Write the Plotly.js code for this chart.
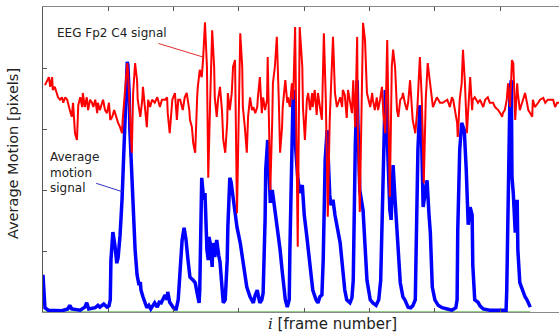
<!DOCTYPE html>
<html>
<head>
<meta charset="utf-8">
<script src="https://cdn.plot.ly/plotly-3.0.1.min.js"></script>
<style>html,body{margin:0;padding:0;background:#fff;}#chart{width:559px;height:333px;}</style>
</head>
<body>
<div id="chart"></div>
<script>
// Average motion signal (frame number, pixels)
const motionFrames = [0,2,3,8,18,29,38,41,44,57,64,67,70,80,84,87,93,98,101,103,104,106,107,110,113,115,118,121,124,127,129,130,132,133,135,136,139,141,144,147,149,150,153,156,159,162,165,168,171,175,178,181,184,187,190,191,194,198,201,204,207,210,213,216,219,222,225,230,233,236,239,240,242,243,246,248,251,253,254,256,259,260,263,266,269,271,274,276,279,282,283,286,288,291,294,297,302,306,309,312,317,322,325,328,331,332,335,337,340,341,344,346,348,351,355,360,363,366,371,374,377,378,380,383,384,387,390,393,397,400,404,409,413,418,421,424,427,429,432,435,436,439,441,444,447,450,455,459,462,465,470,473,475,478,481,482,485,490,493,496,501,505,510,514,517,521,524,525,528,531,533,536,539,542,547,551,554,559,563,566,570,571,574,577,579,582,585,588,591,593,596,600,605,611,619,626,632,634,635,638,641,645,648,649,651,654,657,658,661,666,669,674,684,700,709,710,712,715,717,718,720,723,726,727,730,735,738,741,746];
const motionValues = [0.61,0.36,0.07,0.03,0.03,0.02,0.05,0.11,0.05,0.03,0.08,0.15,0.05,0.07,0.11,0.08,0.13,0.08,0.10,0.20,0.85,1.26,1.31,1.10,0.80,0.89,1.26,1.84,2.66,3.64,4.10,4.05,3.56,2.98,2.49,2.00,1.51,1.02,0.61,0.44,0.49,0.36,0.25,0.15,0.07,0.11,0.05,0.10,0.15,0.08,0.16,0.15,0.23,0.28,0.20,0.33,0.16,0.08,0.05,0.05,0.20,0.69,1.18,1.38,1.18,0.85,0.57,0.52,0.48,0.31,0.15,0.36,1.34,2.20,1.84,1.95,1.02,0.85,1.23,1.13,0.74,1.13,0.90,1.18,0.93,0.82,0.41,0.15,0.20,0.85,1.39,2.20,2.13,1.84,1.59,1.39,1.13,0.85,0.61,0.41,0.25,0.15,0.28,0.36,0.20,0.15,0.20,0.31,1.51,2.33,2.82,2.41,1.79,2.00,1.67,1.30,1.02,0.69,0.20,0.08,0.20,1.02,2.16,3.64,3.56,2.66,2.21,1.95,2.08,1.59,1.23,0.77,0.36,0.20,0.15,0.25,0.28,0.85,2.49,2.98,2.66,1.92,1.75,1.84,1.59,1.43,1.13,0.69,0.36,0.20,0.15,0.23,0.52,2.66,3.80,3.15,2.00,1.67,1.02,0.52,0.20,0.15,0.11,0.20,0.52,2.66,3.64,3.48,2.49,1.67,1.51,2.41,1.84,1.26,0.48,0.25,0.20,0.08,0.07,0.10,0.20,0.85,2.66,3.39,3.15,1.72,1.92,2.16,1.59,1.30,0.41,0.20,0.11,0.07,0.05,0.03,0.07,0.20,1.34,2.66,3.10,2.98,2.33,2.00,1.43,1.72,1.59,0.77,0.20,0.16,0.10,0.05,0.03,0.03,0.03,0.36,1.84,3.64,3.80,2.21,1.95,1.30,1.84,1.02,0.48,0.31,0.25,0.20,0.08];

// EEG Fp2-C4 signal (frame number, scaled amplitude)
const eegFrames = [3,6,9,11,14,15,18,21,23,26,29,31,34,37,38,41,44,46,49,52,54,57,60,61,64,67,69,72,75,77,80,83,84,87,92,95,98,101,103,106,109,113,115,118,121,122,126,129,130,133,136,138,141,144,145,149,152,153,156,159,161,164,167,171,175,179,182,187,190,191,194,198,202,205,207,210,214,217,220,224,225,228,230,233,236,237,240,243,245,248,251,253,256,259,262,263,266,268,271,274,276,279,282,283,286,289,291,294,297,299,302,305,306,309,312,314,317,320,322,325,328,329,332,335,337,340,343,344,348,351,352,355,358,361,363,366,367,371,374,375,378,381,383,386,390,393,397,398,401,404,406,409,412,413,416,419,421,424,427,430,433,436,439,444,447,450,455,458,459,462,465,467,470,473,475,478,481,482,485,488,490,493,496,501,504,505,508,511,513,516,519,521,524,527,528,531,534,536,539,542,544,547,550,551,554,557,559,562,565,566,570,573,577,580,583,586,589,593,596,597,603,608,612,619,623,626,628,631,634,635,638,641,643,646,649,651,654,657,658,661,666,669,674,677,681,684,689,692,697,700,703,704,707,710,712,715,718,720,723,726,727,730,733,735,738,741,743,746,749,750,753,758,761,766,769,773,776,781,784,787,790];
const eegValues = [3.72,3.80,3.85,3.69,3.85,3.64,3.69,3.59,3.52,3.48,3.52,3.43,3.52,3.48,3.43,3.31,3.20,3.43,2.93,2.82,3.39,3.52,3.36,3.59,3.36,3.52,3.31,3.48,3.43,3.36,3.48,3.26,3.43,3.31,3.48,3.31,3.26,3.43,3.15,3.20,3.31,3.15,3.10,3.03,2.93,3.15,3.64,4.08,3.97,3.31,2.61,3.59,4.08,3.80,3.48,3.20,3.48,3.69,3.31,3.03,3.48,3.36,3.48,3.43,3.52,3.36,3.48,3.48,3.52,3.26,2.93,3.48,3.59,3.15,3.48,3.48,3.31,3.52,3.59,3.31,3.15,3.03,2.77,2.61,3.52,3.69,3.97,3.85,4.13,4.75,4.02,2.20,3.48,4.62,4.02,3.52,3.20,3.48,3.69,3.31,2.82,2.61,3.10,3.59,3.31,3.59,4.02,4.13,1.62,2.66,4.57,4.02,3.36,3.03,2.61,3.20,3.52,3.31,3.36,3.26,3.36,3.52,3.85,3.26,3.52,3.31,3.48,4.18,2.00,3.15,3.75,4.02,4.51,3.48,2.61,3.03,3.36,3.80,3.43,3.52,3.36,3.75,3.48,4.67,1.07,4.67,4.02,3.36,2.82,3.48,3.59,3.31,3.59,3.36,3.64,3.23,3.59,3.36,3.15,4.57,3.48,1.56,3.15,4.51,3.59,3.36,3.52,3.36,3.64,3.56,3.18,3.64,3.43,3.26,3.80,3.03,4.51,3.03,1.64,3.31,4.74,4.46,3.59,3.36,3.59,3.48,3.31,3.52,3.31,3.48,3.69,3.26,2.93,4.46,3.69,1.89,4.02,4.30,4.02,3.31,3.20,3.48,3.52,3.59,3.43,3.31,3.43,3.80,3.31,3.15,2.93,3.31,4.18,3.48,2.11,3.48,4.08,3.75,3.48,3.36,3.52,3.43,3.43,3.48,3.36,3.52,3.48,3.31,3.10,2.87,3.48,3.75,4.30,3.75,2.93,3.31,3.85,3.31,3.48,3.52,3.43,3.48,3.36,3.48,3.52,3.43,3.43,3.36,3.31,3.26,3.20,3.26,3.31,3.48,3.75,3.36,4.13,4.08,3.15,3.75,3.59,3.31,3.43,3.48,3.59,3.43,3.31,3.26,3.20,3.48,3.36,3.43,3.48,3.51,3.43,3.48,3.48,3.48,3.36,3.43,3.43];

// zero baseline
const baseFrames = [0, 746];
const baseValues = [0, 0];

const xTicks = [0,100,200,300,400,500,600,700];
const yTicks = [0,1,2,3,4,5];

const traces = [
  {x: baseFrames, y: baseValues, mode: 'lines', line: {color: '#6cbf5f', width: 1.5}, hoverinfo: 'skip'},
  {x: motionFrames, y: motionValues, mode: 'lines', line: {color: '#0000ff', width: 3.5}, hoverinfo: 'skip'},
  {x: eegFrames, y: eegValues, mode: 'lines', line: {color: '#ff0000', width: 2}, hoverinfo: 'skip'}
];

const txt = {family: 'DejaVu Sans', size: 12, color: '#222'};

const layout = {
  width: 559, height: 333,
  margin: {l: 43, r: 0, t: 7, b: 21, pad: 0},
  paper_bgcolor: '#fff', plot_bgcolor: '#fff',
  showlegend: false,
  xaxis: {range: [0, 790], tickvals: xTicks, ticks: 'inside', ticklen: 4, tickcolor: '#555',
          showticklabels: false, showgrid: false, zeroline: false,
          showline: true, linecolor: '#888', linewidth: 1, mirror: 'ticks'},
  yaxis: {range: [0, 5], tickvals: yTicks, ticks: 'inside', ticklen: 4, tickcolor: '#555',
          showticklabels: false, showgrid: false, zeroline: false,
          showline: true, linecolor: '#555', linewidth: 1},
  annotations: [
    {xref: 'paper', yref: 'paper', x: 0.0233, y: 0.915, xanchor: 'left', yanchor: 'middle',
     text: 'EEG Fp2 C4 signal', showarrow: false, font: txt},
    {xref: 'paper', yref: 'paper', x: 0.0097, y: 0.459, xanchor: 'left', yanchor: 'middle', align: 'left',
     text: 'Average<br>motion<br>signal', showarrow: false, font: txt},
    {x: 245, y: 4.18, ax: -46, ay: -14, text: '', showarrow: true, arrowhead: 0, arrowwidth: 1, arrowcolor: '#e03030'},
    {x: 122, y: 1.97, ax: -28, ay: -9, text: '', showarrow: true, arrowhead: 0, arrowwidth: 1, arrowcolor: '#3030c0'},
    {xref: 'paper', yref: 'paper', x: -0.0581, y: 0.518, xanchor: 'center', yanchor: 'middle', textangle: -90,
     text: 'Average Motion [pixels]', showarrow: false, font: {family: 'DejaVu Sans', size: 14.5, color: '#222'}},
    {xref: 'paper', yref: 'paper', x: 0.562, y: -0.039, xanchor: 'center', yanchor: 'middle',
     text: '<span style="font-family:DejaVu Serif"><i>i</i></span> [frame number]', showarrow: false,
     font: {family: 'DejaVu Sans', size: 15, color: '#222'}}
  ]
};

Plotly.newPlot('chart', traces, layout, {staticPlot: true, displayModeBar: false});
</script>
</body>
</html>
